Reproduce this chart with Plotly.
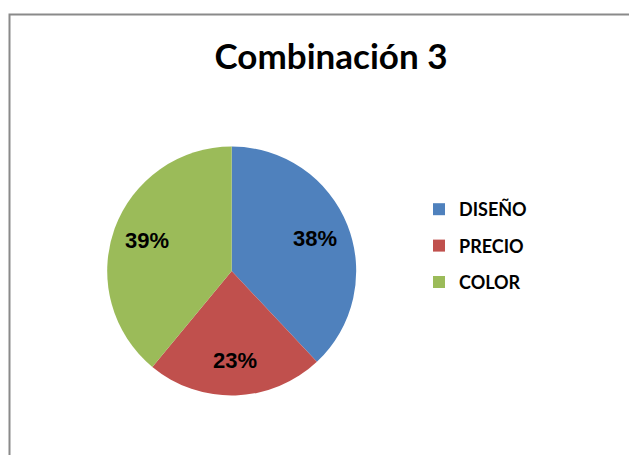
import math
import plotly.graph_objects as go

categories = ["DISEÑO", "PRECIO", "COLOR"]
values = [38, 23, 39]
colors = ["#4F81BD", "#C0504D", "#9BBB59"]
title_text = "Combinación 3"

W, H = 637, 455
OFF = 8  # page body margin
cx, cy, R = 231.7 - OFF, 271.0 - OFF, 124.5


def px(x):
    return x / W


def py(y):
    return 1 - y / H


fig = go.Figure()
fig.add_trace(go.Pie(
    labels=categories, values=values, sort=False, direction="clockwise", rotation=0,
    marker=dict(colors=colors, line=dict(width=0)),
    textinfo="none",
    domain=dict(x=[px(cx - R), px(cx + R)], y=[py(cy + R), py(cy - R)]),
    showlegend=False, hoverinfo="label+percent",
))

# percentage labels placed along each slice's bisector
total = sum(values)
cum = 0
annotations = []
for v in values:
    mid = (cum + v / 2) / total * 2 * math.pi
    cum += v
    r = 0.72 * R
    annotations.append(dict(
        x=px(cx + r * math.sin(mid)), y=py(cy - r * math.cos(mid)),
        xref="paper", yref="paper", showarrow=False,
        text=f"{round(100 * v / total)}%",
        font=dict(family="Liberation Sans Narrow, Arial Narrow, Liberation Sans", size=22,
                  color="black", weight="bold"),
        xanchor="center", yanchor="middle",
    ))

for c, col in zip(categories, colors):
    fig.add_trace(go.Scatter(
        x=[None], y=[None], mode="markers", name=c, legendgroup=c,
        marker=dict(symbol="square", size=12, color=col), showlegend=True,
    ))

fig.update_layout(
    width=W, height=H,
    margin=dict(l=0, r=0, t=0, b=0),
    paper_bgcolor="white", plot_bgcolor="white",
    xaxis=dict(visible=False), yaxis=dict(visible=False),
    title=dict(text=title_text, x=px(331 - OFF), xanchor="center", y=py(57 - OFF),
               yanchor="middle",
               font=dict(family="Lato, Carlito, Calibri, sans-serif", size=35, color="black",
                         weight="bold")),
    legend=dict(x=px(419 - OFF), xanchor="left", y=py(191 - OFF), yanchor="top",
                tracegroupgap=10, traceorder="grouped",
                font=dict(family="Lato, Carlito, Calibri, sans-serif", size=18, color="black",
                          weight="bold"),
                bgcolor="rgba(0,0,0,0)"),
    annotations=annotations,
    shapes=[dict(type="rect", xref="paper", yref="paper",
                 x0=px(9.5 - OFF), x1=1.05, y0=-0.05, y1=py(14.5 - OFF),
                 line=dict(color="#8A8A8A", width=2), fillcolor="rgba(0,0,0,0)")],
)

fig.write_html("out.html")
